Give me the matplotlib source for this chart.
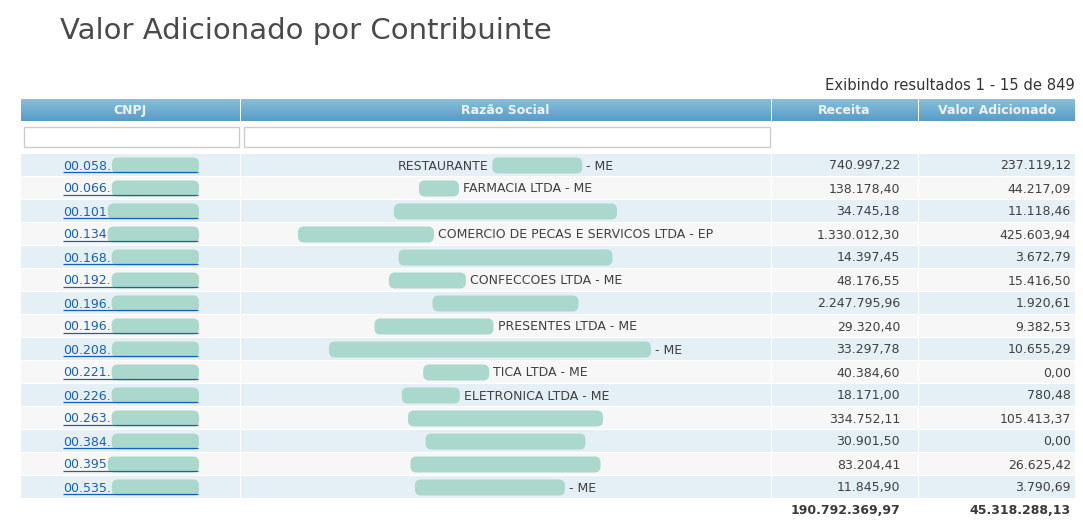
import matplotlib
matplotlib.use("Agg")
import matplotlib.pyplot as plt
from matplotlib.patches import Rectangle, FancyBboxPatch
import numpy as np

# ---------------- data ----------------
title = "Valor Adicionado por Contribuinte"
summary = "Exibindo resultados 1 - 15 de 849"
columns = ["CNPJ", "Razão Social", "Receita", "Valor Adicionado"]

cnpj_visible = ["00.058.", "00.066.", "00.101", "00.134", "00.168.",
                "00.192.", "00.196.", "00.196.", "00.208.", "00.221.",
                "00.226.", "00.263.", "00.384.", "00.395", "00.535."]

# text segments and redacted (blurred) segment widths
razao_social = [
    ["RESTAURANTE", 90, "- ME"],
    [40, "FARMACIA LTDA - ME"],
    [223],
    [136, "COMERCIO DE PECAS E SERVICOS LTDA - EP"],
    [214],
    [77, "CONFECCOES LTDA - ME"],
    [146],
    [119, "PRESENTES LTDA - ME"],
    [322, "- ME"],
    [66, "TICA LTDA - ME"],
    [58, "ELETRONICA LTDA - ME"],
    [195],
    [160],
    [190],
    [150, "- ME"],
]

receita = [740997.22, 138178.40, 34745.18, 1330012.30, 14397.45,
           48176.55, 2247795.96, 29320.40, 33297.78, 40384.60,
           18171.00, 334752.11, 30901.50, 83204.41, 11845.90]
valor_adicionado = [237119.12, 44217.09, 11118.46, 425603.94, 3672.79,
                    15416.50, 1920.61, 9382.53, 10655.29, 0.00,
                    780.48, 105413.37, 0.00, 26625.42, 3790.69]
total_receita = 190792369.97
total_valor = 45318288.13


def brl(v):
    s = f"{v:,.2f}"
    return s.replace(",", "X").replace(".", ",").replace("X", ".")


# ---------------- layout / style ----------------
W, H = 1083, 529
col_edges = [21, 240, 771, 918, 1075]
header_top, header_bot = 99, 121
row_top0, row_h = 154, 23
fs = 9

c_title = "#4a4a4a"
c_text = "#404040"
c_head_txt = "#edf4f9"
c_odd = "#e4f0f5"
c_even = "#f7f7f7"
c_link = "#1560bd"
c_blob = "#aad8cc"
c_input = "#cccccc"

fig = plt.figure(figsize=(W / 100, H / 100), dpi=100)
ax = fig.add_axes([0, 0, 1, 1])
ax.set_xlim(0, W)
ax.set_ylim(H, 0)
ax.axis("off")
fig.patch.set_facecolor("white")
renderer = fig.canvas.get_renderer()

# title and summary
ax.text(60, 31, title, fontsize=21, color=c_title, va="center", ha="left")
ax.text(1075, 85, summary, fontsize=10.6, color="#333333", va="center", ha="right")

# header gradient
grad = np.linspace(0, 1, 64).reshape(-1, 1)
top = np.array(matplotlib.colors.to_rgb("#88bfdc"))
bot = np.array(matplotlib.colors.to_rgb("#589cc7"))
img = top[None, None, :] * (1 - grad[:, :, None]) + bot[None, None, :] * grad[:, :, None]
for j in range(4):
    x0, x1 = col_edges[j], col_edges[j + 1]
    ax.imshow(img, extent=(x0 + (1 if j else 0), x1, header_bot, header_top),
              aspect="auto", interpolation="bilinear", zorder=1)
    ax.text((x0 + x1) / 2, (header_top + header_bot) / 2 + 0.5, columns[j],
            fontsize=fs, color=c_head_txt, fontweight="bold",
            ha="center", va="center", zorder=3)
ax.set_xlim(0, W)
ax.set_ylim(H, 0)

# filter inputs
ax.add_patch(Rectangle((24, 127), 215, 20, facecolor="white", edgecolor=c_input, lw=1, zorder=2))
ax.add_patch(Rectangle((244, 127), 526, 20, facecolor="white", edgecolor=c_input, lw=1, zorder=2))


def blob(x, yc, w):
    ax.add_patch(FancyBboxPatch((x, yc - 7.5), w, 16,
                                boxstyle="round,pad=0,rounding_size=6",
                                facecolor=c_blob, edgecolor="none", zorder=4))


gap = 4
for i in range(len(receita)):
    y0 = row_top0 + row_h * i
    yc = y0 + row_h / 2 - 0.5
    base = yc + 4.5
    fc = c_odd if i % 2 == 0 else c_even
    for j in range(4):
        x0, x1 = col_edges[j], col_edges[j + 1]
        ax.add_patch(Rectangle((x0 + (1 if j else 0), y0), x1 - x0 - (1 if j else 0), row_h - 1,
                               facecolor=fc, edgecolor="none", zorder=1))
    # CNPJ link
    t = ax.text(63, base, cnpj_visible[i], fontsize=fs, color=c_link,
                ha="left", va="baseline", zorder=3)
    tw = t.get_window_extent(renderer).width
    blob(63 + tw + 1, yc, 199 - (63 + tw + 1))
    ax.plot([63, 198], [base + 2.5, base + 2.5], color=c_link, lw=0.9, zorder=5,
            solid_capstyle="butt")
    # Razão social
    segs = razao_social[i]
    widths = []
    for s in segs:
        if isinstance(s, str):
            tt = ax.text(0, 0, s, fontsize=fs)
            widths.append(tt.get_window_extent(renderer).width)
            tt.remove()
        else:
            widths.append(s)
    total = sum(widths) + gap * (len(segs) - 1)
    x = 505.5 - total / 2
    for s, w in zip(segs, widths):
        if isinstance(s, str):
            ax.text(x, base, s, fontsize=fs, color=c_text, ha="left", va="baseline", zorder=3)
        else:
            blob(x, yc, w)
        x += w + gap
    # numbers
    ax.text(900, base, brl(receita[i]), fontsize=fs, color=c_text,
            ha="right", va="baseline", zorder=3)
    ax.text(1071, base, brl(valor_adicionado[i]), fontsize=fs, color=c_text,
            ha="right", va="baseline", zorder=3)

# totals
ty = row_top0 + row_h * len(receita) + 11 + 4.5
ax.text(900, ty, brl(total_receita), fontsize=fs, color="#3a3a3a", fontweight="bold",
        ha="right", va="baseline")
ax.text(1071, ty, brl(total_valor), fontsize=fs, color="#3a3a3a", fontweight="bold",
        ha="right", va="baseline")

fig.savefig("out.png", dpi=100, facecolor="white")
